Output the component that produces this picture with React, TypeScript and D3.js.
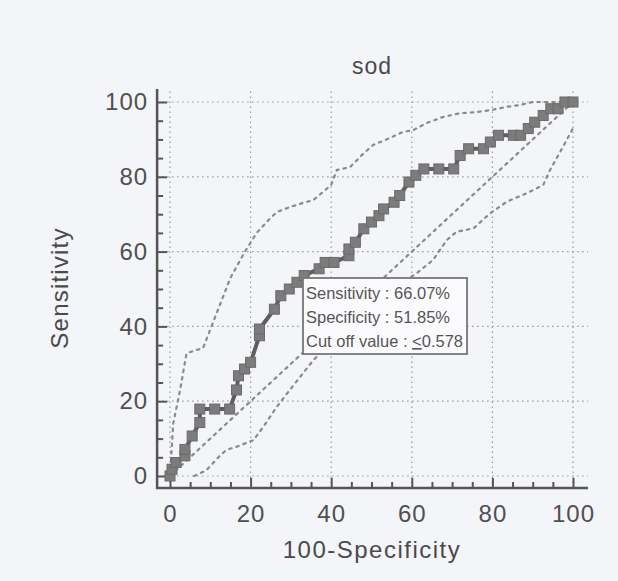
import React, { useEffect, useRef } from "react";
import * as d3 from "d3";

// ROC curve points: [100-Specificity, Sensitivity]
const rocPoints: [number, number][] = [
  [0, 0], [0.5, 1.8], [1.5, 3.6], [3.7, 5.4], [3.7, 7.1], [5.5, 10.7],
  [7.4, 14.3], [7.4, 17.9], [11.1, 17.9], [14.8, 17.9], [16.5, 23], [17, 26.8],
  [18.5, 28.6], [20, 30.4], [22.2, 37.5], [22.2, 39.3], [25.9, 44.6], [27.5, 48.2],
  [29.6, 50], [31.5, 51.8], [33.3, 53.6], [37, 55.4], [38.5, 57.1], [40.7, 57.1],
  [44.4, 58.9], [44.4, 60.7], [46, 62.5], [48.1, 66.1], [50, 67.9], [51.85, 69.6],
  [53, 71.4], [55.6, 73.2], [57, 75], [59.3, 78.6], [61, 80.4], [63, 82.1],
  [66.7, 82.1], [70.4, 82.1], [72, 85.7], [74.1, 87.5], [77.8, 87.5], [79.5, 89.3],
  [81.5, 91.1], [85.2, 91.1], [87, 91.1], [88.9, 92.9], [90.5, 94.6], [92.6, 96.4],
  [94.5, 98.2], [96.3, 98.2], [98, 100], [100, 100],
];

// 95% confidence bounds
const upperCI: [number, number][] = [
  [0, 0], [0.8, 14], [2.5, 23], [4.1, 32.8], [6, 33.5], [8.2, 34.2], [11.6, 43.6],
  [15, 53], [18.6, 60], [21.5, 65], [24.4, 68.4], [26.5, 70.6], [30, 72], [33, 73],
  [35.6, 73.8], [38, 76], [40, 77.8], [41.4, 81.8], [44.7, 82.6], [47.6, 85.8],
  [50.4, 88.5], [54.6, 90.4], [57.8, 92], [60.4, 92.5], [63.7, 94.4], [67.8, 96],
  [72, 97], [76, 97.3], [80, 97.9], [83.5, 98.7], [86.8, 99.2], [90, 100], [100, 100],
];

const lowerCI: [number, number][] = [
  [6, 0], [9, 1.5], [12, 5], [14, 7], [16.5, 7.8], [20.7, 9.6], [23.2, 13.2],
  [26.5, 18.5], [29, 22], [32.3, 26.5], [35.6, 31], [40, 36], [45, 41], [50, 46],
  [55, 50], [61.2, 54.2], [65.3, 57.8], [68.7, 63.1], [71.1, 65.3], [75.3, 66.2],
  [79.4, 70.2], [83.5, 73.3], [88.5, 75.6], [92.6, 77.8], [94.3, 81.8], [97.5, 88],
  [100, 93],
];

const diagonal: [number, number][] = [[0, 0], [100, 100]];

const majorTicks = [0, 20, 40, 60, 80, 100];
const minorTicks = [5, 10, 15, 25, 30, 35, 45, 50, 55, 65, 70, 75, 85, 90, 95];

const boxLines = ["Sensitivity : 66.07%", "Specificity : 51.85%"];
const cutoffLabel = "Cut off value : ";
const cutoffValue = "0.578";

export default function App() {
  const ref = useRef<SVGSVGElement>(null);

  useEffect(() => {
    const svg = d3.select(ref.current);
    svg.selectAll("*").remove();

    const width = 618;
    const height = 581;
    const font = "'Liberation Sans', Arial, sans-serif";

    svg.append("rect").attr("width", width).attr("height", height).attr("fill", "#f4f5f9");

    const x = d3.scaleLinear().domain([0, 100]).range([170, 573]);
    const y = d3.scaleLinear().domain([0, 100]).range([476, 102]);
    const axisX = x(-3.2);
    const axisY = y(-3.2);
    const topEnd = y(103.5);
    const rightEnd = x(103.7);

    // grid
    const grid = svg.append("g").attr("stroke", "#9a9a9a").attr("stroke-width", 1.2)
      .attr("stroke-dasharray", "1.5,3.5");
    majorTicks.forEach((t) => {
      grid.append("line").attr("x1", x(t)).attr("x2", x(t)).attr("y1", axisY).attr("y2", topEnd);
      grid.append("line").attr("y1", y(t)).attr("y2", y(t)).attr("x1", axisX).attr("x2", rightEnd);
    });

    // axes
    const yAxis = svg.append("g").attr("transform", `translate(${axisX},0)`)
      .call(d3.axisLeft(y).tickValues(majorTicks).tickSize(-10).tickPadding(9));
    const xAxis = svg.append("g").attr("transform", `translate(0,${axisY})`)
      .call(d3.axisBottom(x).tickValues(majorTicks).tickSize(-10).tickPadding(17));
    svg.append("g").attr("transform", `translate(${axisX},0)`)
      .call(d3.axisLeft(y).tickValues(minorTicks).tickSize(-6).tickFormat(() => ""));
    svg.append("g").attr("transform", `translate(0,${axisY})`)
      .call(d3.axisBottom(x).tickValues(minorTicks).tickSize(-6).tickFormat(() => ""));

    svg.selectAll(".domain").remove();
    svg.selectAll(".tick line").attr("stroke", "#555").attr("stroke-width", 2);
    [yAxis, xAxis].forEach((a) =>
      a.selectAll("text").attr("font-family", font).attr("font-size", 24)
        .attr("letter-spacing", 1).attr("fill", "#505050")
    );

    svg.append("line").attr("x1", axisX).attr("x2", axisX).attr("y1", topEnd).attr("y2", axisY + 1)
      .attr("stroke", "#555").attr("stroke-width", 2.5);
    svg.append("line").attr("x1", axisX - 1).attr("x2", rightEnd).attr("y1", axisY).attr("y2", axisY)
      .attr("stroke", "#555").attr("stroke-width", 2.5);

    const line = d3.line<[number, number]>().x((d) => x(d[0])).y((d) => y(d[1]));

    // diagonal and confidence bounds
    [diagonal, upperCI, lowerCI].forEach((data) => {
      svg.append("path").attr("d", line(data)).attr("fill", "none")
        .attr("stroke", "#8a8a8a").attr("stroke-width", 2.2)
        .attr("stroke-dasharray", "2.5,5").attr("stroke-linecap", "round");
    });

    // ROC curve
    svg.append("path").attr("d", line(rocPoints)).attr("fill", "none")
      .attr("stroke", "#5e5e5e").attr("stroke-width", 4);
    svg.append("g").selectAll("rect").data(rocPoints).enter().append("rect")
      .attr("x", (d) => x(d[0]) - 5).attr("y", (d) => y(d[1]) - 5)
      .attr("width", 10).attr("height", 10)
      .attr("fill", "#7c7c7c").attr("stroke", "#6a6a6a").attr("stroke-width", 1);

    // label box
    svg.append("rect").attr("x", 303).attr("y", 278).attr("width", 164).attr("height", 76)
      .attr("fill", "#fbfbfd").attr("stroke", "#777").attr("stroke-width", 1.8);
    const box = svg.append("g").attr("font-family", font).attr("font-size", 16.5).attr("fill", "#555");
    boxLines.forEach((t, i) => {
      box.append("text").attr("x", 306).attr("y", 299 + i * 24).text(t);
    });
    const cut = box.append("text").attr("x", 306).attr("y", 347);
    cut.append("tspan").text(cutoffLabel);
    cut.append("tspan").attr("text-decoration", "underline").text("<");
    cut.append("tspan").text(cutoffValue);

    // titles
    svg.append("text").attr("x", 372).attr("y", 74).attr("text-anchor", "middle")
      .attr("font-family", font).attr("font-size", 23).attr("letter-spacing", 1)
      .attr("fill", "#4a4a4a").text("sod");
    svg.append("text").attr("x", 372).attr("y", 558).attr("text-anchor", "middle")
      .attr("font-family", font).attr("font-size", 24).attr("letter-spacing", 1.5)
      .attr("fill", "#4a4a4a").text("100-Specificity");
    svg.append("text").attr("transform", "translate(68,288) rotate(-90)").attr("text-anchor", "middle")
      .attr("font-family", font).attr("font-size", 24).attr("letter-spacing", 1.2)
      .attr("fill", "#4a4a4a").text("Sensitivity");
  }, []);

  return (
    <svg ref={ref} width={618} height={581} style={{ position: "absolute", left: 0, top: 0 }} />
  );
}
